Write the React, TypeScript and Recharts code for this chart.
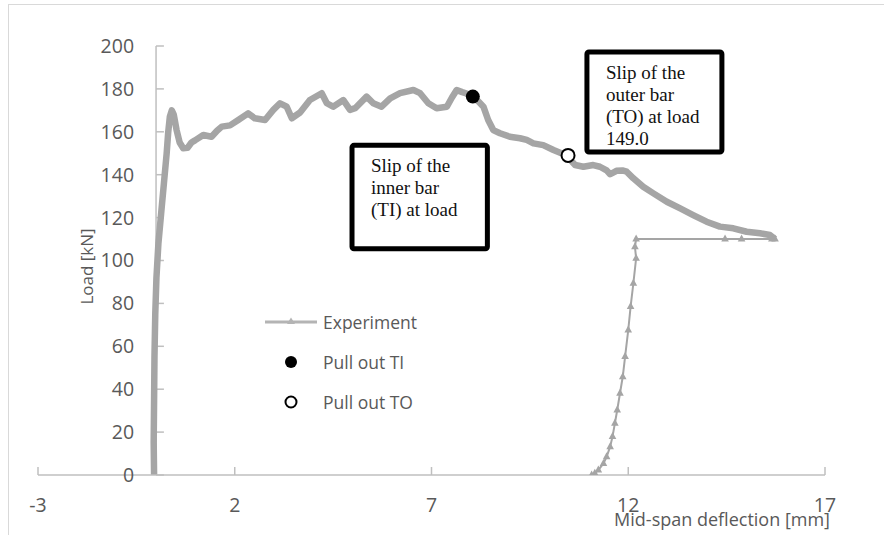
import React from 'react'
import { ComposedChart, Line, Scatter, XAxis, YAxis, ReferenceLine, ReferenceArea, Legend } from 'recharts'

// axes
const xTicks = [-3, 2, 7, 12, 17]
const yTicks = [0, 20, 40, 60, 80, 100, 120, 140, 160, 180, 200]

// loading branch (dense record) - deflection [mm] / load [kN]
const mainDefl = [
  -0.05, -0.06, -0.05, -0.04, -0.02, 0.01, 0.06, 0.13, 0.2, 0.27, 0.31, 0.35, 0.4, 0.45, 0.52, 0.6, 0.69, 0.8, 0.9, 0.99,
  1.2, 1.41, 1.55, 1.67, 1.88, 2.09, 2.34, 2.51, 2.77, 2.98, 3.15, 3.32, 3.45, 3.66, 3.91, 4.21, 4.34, 4.5, 4.76, 4.93,
  5.06, 5.35, 5.52, 5.73, 5.95, 6.2, 6.54, 6.71, 6.92, 7.13, 7.39, 7.52, 7.64, 7.78, 7.95, 8.05, 8.2, 8.32, 8.44, 8.57,
  8.74, 8.99, 9.25, 9.42, 9.59, 9.84, 10.1, 10.3, 10.45, 10.55, 10.65, 10.86, 11.11, 11.28, 11.45, 11.54, 11.7, 11.85, 11.96, 12.13,
  12.38, 12.64, 12.98, 13.32, 13.65, 13.99, 14.33, 14.67, 15.01, 15.35, 15.6, 15.73,
]
const mainLoad = [
  0, 15, 35, 55, 75, 92, 108, 122, 136, 150, 160, 167, 170, 168, 161, 155, 152.3, 152.5, 155, 156,
  158.5, 157.7, 160.5, 162.4, 163, 165.5, 168.6, 166.3, 165.5, 170.2, 173.3, 171.7, 166.3, 169, 174.8, 178, 173.3, 171.7, 174.8, 170.2,
  171, 176.4, 173.3, 171.7, 175.6, 178, 179.5, 178, 173.3, 171, 171.7, 176, 179.5, 178.5, 177.5, 176.4, 174, 171.7, 165.5, 160.8,
  159.3, 157.7, 157, 156.2, 154.6, 153.8, 151.5, 150, 149.2, 146.5, 144.5, 143.7, 144.5, 143.7, 142, 140.2, 141.8, 142, 141.4, 138.3,
  134.4, 131.3, 127.4, 124.3, 121.2, 118.1, 115.8, 115, 113.4, 112.7, 111.9, 110,
]

// unloading tail (sparse record)
const tailDefl = [15.73, 15.65, 14.88, 14.46, 12.2, 12.17, 12.2, 12.13, 12.06, 12.0, 11.92, 11.86, 11.79, 11.72, 11.66, 11.6, 11.54, 11.45, 11.37, 11.24, 11.15, 11.07]
const tailLoad = [110, 110, 110, 110, 110, 106.4, 101, 89.4, 78.5, 67.6, 55.2, 45.8, 38.1, 30.3, 24.1, 17.9, 13.2, 8.5, 5.4, 2.3, 0.8, 0]

const pullOutTI = [{ x: 8.05, y: 176.4 }]
const pullOutTO = [{ x: 10.47, y: 149.0 }]

const legendNames = ['Experiment', 'Pull out TI', 'Pull out TO']

const noteTI = ['Slip of the', 'inner bar', '(TI) at load']
const noteTO = ['Slip of the', 'outer bar', '(TO) at load', '149.0']

const mainData = mainDefl.map((x, i) => ({ x, y: mainLoad[i] }))
const tailData = tailDefl.map((x, i) => ({ x, y: tailLoad[i] }))

const GRAY = '#A5A5A5'
const AXIS = '#BFBFBF'
const TEXT = '#595959'

function TriangleDot(props: any) {
  const { cx, cy, index } = props
  if (cx == null || cy == null) return <g key={index} />
  return <path key={index} d={`M${cx},${cy - 4.5} L${cx + 3.8},${cy + 2.5} L${cx - 3.8},${cy + 2.5} Z`} fill={GRAY} />
}

function NoteText(lines: string[]) {
  return (props: any) => {
    const vb = props.viewBox
    return (
      <text fontFamily="'Liberation Serif', serif" fontSize={19} fill="#111">
        {lines.map((l, i) => (
          <tspan key={i} x={vb.x + 19} y={vb.y + 27 + i * 22}>{l}</tspan>
        ))}
      </text>
    )
  }
}

function LoadTitle(props: any) {
  const vb = props.viewBox
  const x = vb.x - 70
  const y = vb.y + vb.height / 2 + 6
  return (
    <text x={x} y={y} transform={`rotate(-90 ${x} ${y})`} textAnchor="middle" dominantBaseline="central" fontSize={17} fill={TEXT}>
      Load [kN]
    </text>
  )
}

function DeflTitle(props: any) {
  const vb = props.viewBox
  return (
    <text x={vb.x + vb.width + 5} y={vb.y + 51} textAnchor="end" fontSize={18} fill={TEXT}>
      Mid-span deflection [mm]
    </text>
  )
}

function LegendBox() {
  return (
    <div style={{ fontSize: 17.5, color: TEXT }}>
      {legendNames.map((name, i) => (
        <div key={name} style={{ display: 'flex', alignItems: 'center', height: 40 }}>
          <svg width={58} height={40}>
            {i === 0 && (
              <g>
                <line x1={3} x2={55} y1={20} y2={20} stroke="#B4B4B4" strokeWidth={3} />
                <path d="M29,15.5 L33,22 L25,22 Z" fill="#B4B4B4" />
              </g>
            )}
            {i === 1 && <circle cx={29} cy={20} r={6} fill="#000" />}
            {i === 2 && <circle cx={29} cy={20} r={5.5} fill="#fff" stroke="#000" strokeWidth={2} />}
          </svg>
          <span style={{ marginLeft: 3 }}>{name}</span>
        </div>
      ))}
    </div>
  )
}

export default function App() {
  return (
    <div style={{ position: 'absolute', left: 0, top: 0, width: 884, height: 535, background: '#fff', fontFamily: "'Open Sans', sans-serif" }}>
      <div style={{ position: 'absolute', left: 8, top: 4, width: 876, height: 531, borderTop: '1.5px solid #D9D9D9', borderLeft: '1.5px solid #D9D9D9' }} />
      <ComposedChart width={884} height={535} margin={{ top: 46, right: 59, bottom: 0, left: 38 }} style={{ position: 'absolute', left: 0, top: 0 }}>
        <XAxis
          type="number"
          dataKey="x"
          domain={[-3, 17]}
          ticks={xTicks}
          interval={0}
          height={60}
          allowDataOverflow
          axisLine={{ stroke: AXIS, strokeWidth: 1.5 }}
          tickLine={{ stroke: AXIS, strokeWidth: 1.5 }}
          tickSize={-8}
          tickMargin={31}
          tick={{ fill: TEXT, fontSize: 19.5 }}
          label={DeflTitle}
        />
        <YAxis type="number" dataKey="y" domain={[0, 200]} ticks={yTicks} hide allowDataOverflow />

        <ReferenceLine x={0} stroke={AXIS} strokeWidth={1.5} label={LoadTitle} />
        {yTicks.map((v) => (
          <ReferenceLine
            key={v}
            segment={[{ x: 0, y: v }, { x: 0.2, y: v }]}
            stroke={AXIS}
            strokeWidth={1.5}
            label={{ value: v, position: 'left', offset: 22, fill: TEXT, fontSize: 19.5 }}
          />
        ))}

        <ReferenceArea x1={4.98} x2={8.42} y1={105.5} y2={153.7} stroke="#000" strokeWidth={5} fill="#fff" fillOpacity={1} radius={2} label={NoteText(noteTI)} />
        <ReferenceArea x1={10.95} x2={14.38} y1={150.6} y2={197.2} stroke="#000" strokeWidth={5} fill="#fff" fillOpacity={1} radius={2} label={NoteText(noteTO)} />

        <Line data={mainData} dataKey="y" name="Experiment" type="linear" stroke={GRAY} strokeWidth={6.5} strokeLinejoin="round" dot={false} activeDot={false} isAnimationActive={false} />
        <Line data={tailData} dataKey="y" name="Experiment tail" legendType="none" type="linear" stroke={GRAY} strokeWidth={2} dot={TriangleDot} activeDot={false} isAnimationActive={false} />
        <Scatter data={pullOutTI} dataKey="y" name="Pull out TI" isAnimationActive={false} shape={(p: any) => <circle cx={p.cx} cy={p.cy} r={7} fill="#000" />} />
        <Scatter data={pullOutTO} dataKey="y" name="Pull out TO" isAnimationActive={false} shape={(p: any) => <circle cx={p.cx} cy={p.cy} r={6.5} fill="#fff" stroke="#000" strokeWidth={2} />} />

        <Legend layout="vertical" align="center" verticalAlign="middle" content={LegendBox} wrapperStyle={{ position: 'absolute', left: 262, top: 302, width: 'auto', height: 'auto' }} />
      </ComposedChart>
    </div>
  )
}
